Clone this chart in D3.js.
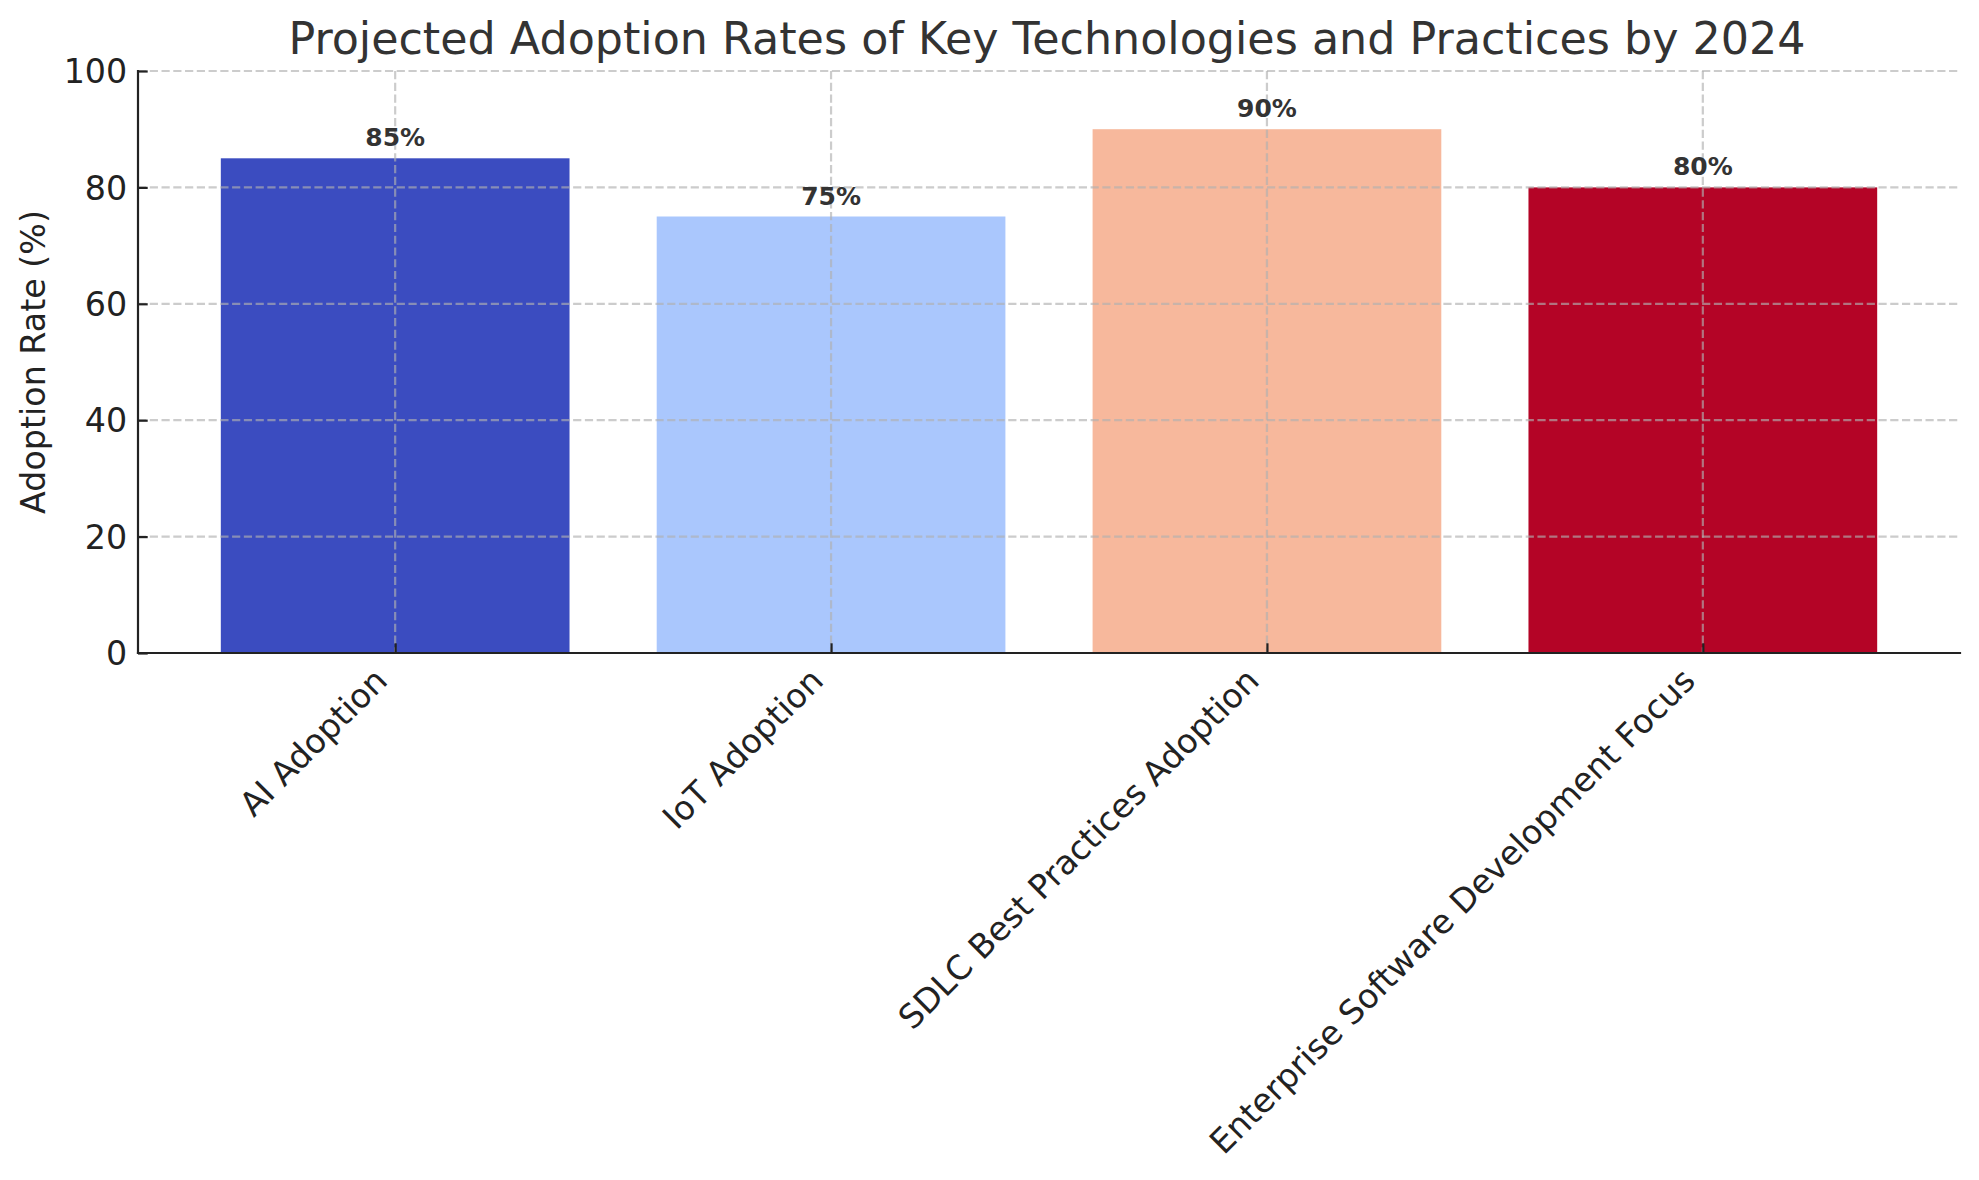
<!DOCTYPE html>
<html>
<head>
<meta charset="utf-8">
<script src="https://cdn.jsdelivr.net/npm/d3@7"></script>
<style>
  html, body { margin: 0; padding: 0; background: #ffffff; }
  svg { display: block; }
  text { font-family: "DejaVu Sans", sans-serif; }
</style>
</head>
<body>
<svg id="chart" width="1979" height="1180"></svg>
<script>
// ---- data ----
const categories = ["AI Adoption", "IoT Adoption", "SDLC Best Practices Adoption", "Enterprise Software Development Focus"];
const adoptionRates = [85, 75, 90, 80];
const barColors = ["#3b4cc0", "#aac7fd", "#f7b89c", "#b40426"];
const yTickValues = [0, 20, 40, 60, 80, 100];
const titleText = "Projected Adoption Rates of Key Technologies and Practices by 2024";
const yLabelText = "Adoption Rate (%)";

// ---- layout ----
const W = 1979, H = 1180;
const plot = { left: 138, right: 1960, top: 71, bottom: 653 };
const svg = d3.select("#chart");

const x = d3.scaleLinear().domain([-0.59, 3.59]).range([plot.left, plot.right]);
const y = d3.scaleLinear().domain([0, 100]).range([plot.bottom, plot.top]);
const barHalf = 0.4;

// bars
svg.append("g").selectAll("rect")
  .data(adoptionRates)
  .join("rect")
  .attr("x", (d, i) => x(i - barHalf))
  .attr("width", (d, i) => x(i + barHalf) - x(i - barHalf))
  .attr("y", d => y(d))
  .attr("height", d => y(0) - y(d))
  .attr("fill", (d, i) => barColors[i]);

// grid (drawn above bars)
const grid = svg.append("g")
  .attr("stroke", "#b0b0b0")
  .attr("stroke-opacity", 0.65)
  .attr("stroke-width", 2.2)
  .attr("stroke-dasharray", "8.2,3.56");
grid.selectAll("line.h").data(yTickValues).join("line")
  .attr("class", "h")
  .attr("x1", plot.left).attr("x2", plot.right)
  .attr("y1", d => y(d)).attr("y2", d => y(d));
grid.selectAll("line.v").data(categories).join("line")
  .attr("class", "v")
  .attr("x1", (d, i) => x(i)).attr("x2", (d, i) => x(i))
  .attr("y1", plot.top).attr("y2", plot.bottom);

// value labels
svg.append("g").selectAll("text")
  .data(adoptionRates)
  .join("text")
  .attr("x", (d, i) => x(i))
  .attr("y", d => y(d) - 12)
  .attr("text-anchor", "middle")
  .attr("font-size", 25)
  .attr("font-weight", "bold")
  .attr("fill", "#333333")
  .text(d => d + "%");

// y axis (ticks inward)
const yAxis = d3.axisLeft(y).tickValues(yTickValues).tickSize(-9.7);
const gy = svg.append("g").attr("transform", `translate(${plot.left},0)`).call(yAxis);
gy.select(".domain").remove();
gy.selectAll(".tick line").attr("stroke", "#222222").attr("stroke-width", 2.2);
gy.selectAll(".tick text")
  .attr("x", -10.8)
  .attr("dy", "0.35em")
  .attr("font-size", 33.3)
  .attr("font-family", "DejaVu Sans")
  .attr("fill", "#222222");

// x axis (ticks inward)
const xAxis = d3.axisBottom(x).tickValues(d3.range(categories.length)).tickSize(-9.7).tickFormat(i => categories[i]);
const gx = svg.append("g").attr("transform", `translate(0,${plot.bottom})`).call(xAxis);
gx.select(".domain").remove();
gx.selectAll(".tick line").attr("stroke", "#222222").attr("stroke-width", 2.2);
const fs = 33.3, asc = 0.760 * fs, desc = 0.208 * fs, padTop = 10.8;
gx.selectAll(".tick text")
  .attr("text-anchor", "end")
  .attr("font-size", fs)
  .attr("font-family", "DejaVu Sans")
  .attr("fill", "#222222")
  .attr("x", null).attr("y", null).attr("dy", null)
  .attr("transform", `translate(${-0.707 * desc - 1.5},${padTop + 0.707 * asc + 1}) rotate(-45)`);

// spines
const spines = svg.append("g").attr("stroke", "#222222").attr("stroke-width", 2.2).attr("stroke-linecap", "square");
spines.append("line").attr("x1", plot.left).attr("x2", plot.left).attr("y1", plot.top).attr("y2", plot.bottom);
spines.append("line").attr("x1", plot.left).attr("x2", plot.right).attr("y1", plot.bottom).attr("y2", plot.bottom);

// title
svg.append("text")
  .attr("x", (plot.left + plot.right) / 2 - 2)
  .attr("y", plot.top - 16.7)
  .attr("text-anchor", "middle")
  .attr("font-size", 44.4)
  .attr("fill", "#333333")
  .text(titleText);

// y label
svg.append("text")
  .attr("transform", `translate(45,${(plot.top + plot.bottom) / 2}) rotate(-90)`)
  .attr("text-anchor", "middle")
  .attr("font-size", 33.3)
  .attr("fill", "#222222")
  .text(yLabelText);
</script>
</body>
</html>
